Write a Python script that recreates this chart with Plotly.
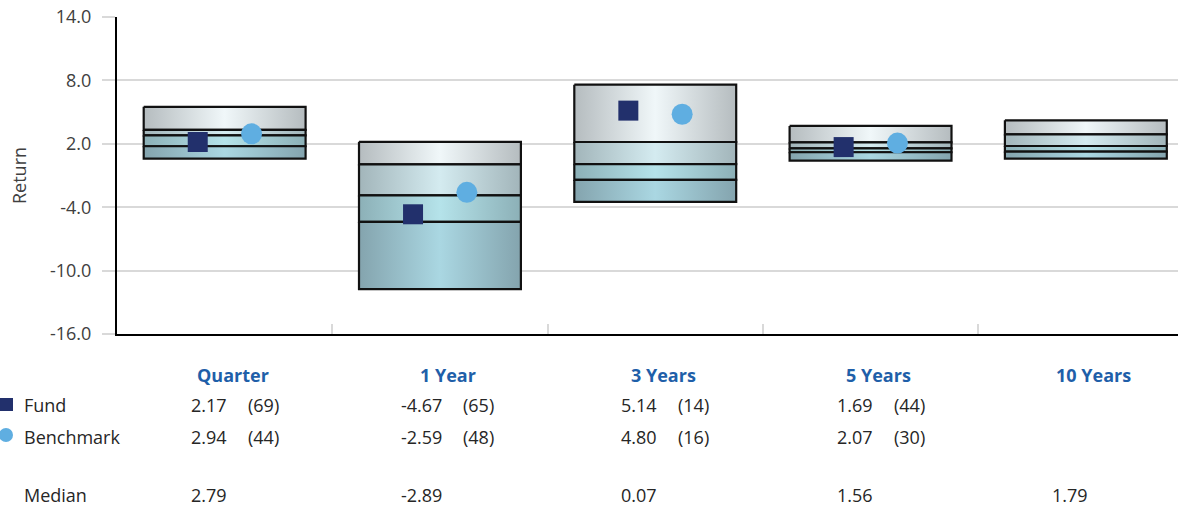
import plotly.graph_objects as go

# ---------------- data ----------------
categories = ["Quarter", "1 Year", "3 Years", "5 Years", "10 Years"]
pct5 = [5.50, 2.19, 7.60, 3.69, 4.22]      # top of box
pct25 = [3.31, 0.06, 2.17, 2.14, 2.90]
median = [2.79, -2.89, 0.07, 1.56, 1.79]
pct75 = [1.77, -5.39, -1.42, 1.20, 1.26]
pct95 = [0.59, -11.76, -3.50, 0.40, 0.60]   # bottom of box

fund = [2.17, -4.67, 5.14, 1.69, None]
fund_rank = [69, 65, 14, 44, None]
bench = [2.94, -2.59, 4.80, 2.07, None]
bench_rank = [44, 48, 16, 30, None]

y_ticks = [14.0, 8.0, 2.0, -4.0, -10.0, -16.0]
y_tick_text = ["%.1f" % v for v in y_ticks]

# ---------------- styling ----------------
FONT = "Open Sans"
TXT = "#262626"
HEAD = "#1f5fa9"
FUND_C = "#22306c"
BENCH_C = "#5faee1"
GRID = "#d9d9d9"

seg_colors = [("#b5bcbf", "#f0f7f9"),
              ("#a2b5ba", "#d4ebf0"),
              ("#8cb0b7", "#b5e3ea"),
              ("#84a4ae", "#aad7e2")]

HALF_W = 0.376
MK_OFF = 0.125

W, H = 1178, 507
L, R_EDGE, T, B_EDGE = 117, 1178, 17, 334   # plot area in px


def px_x(px):
    return (px - L) / (R_EDGE - L)


def px_y(py):
    return (B_EDGE - py) / (B_EDGE - T)


fig = go.Figure()

levels = [pct5, pct25, median, pct75, pct95]
for i, cat in enumerate(categories):
    for s in range(4):
        top = levels[s][i]
        bot = levels[s + 1][i]
        edge, centre = seg_colors[s]
        fig.add_trace(go.Scatter(
            x=[i - HALF_W, i + HALF_W, i + HALF_W, i - HALF_W, i - HALF_W],
            y=[top, top, bot, bot, top],
            mode="lines",
            fill="toself",
            fillgradient=dict(type="horizontal",
                              colorscale=[[0, edge], [0.5, centre], [1, edge]]),
            line=dict(color="#111111", width=2.2),
            hoverinfo="skip",
            showlegend=False,
        ))

xs = list(range(len(categories)))
fig.add_trace(go.Scatter(
    x=[x - MK_OFF for x in xs], y=fund, mode="markers", name="Fund",
    marker=dict(symbol="square", size=20, color=FUND_C), showlegend=False))
fig.add_trace(go.Scatter(
    x=[x + MK_OFF for x in xs], y=bench, mode="markers", name="Benchmark",
    marker=dict(symbol="circle", size=21, color=BENCH_C), showlegend=False))

# ---------------- table below the chart ----------------
ann = []
row_head, row_fund, row_bench, row_med = 375, 405, 437, 495
for i, cat in enumerate(categories):
    ann.append(dict(x=i, y=px_y(row_head), xref="x", yref="paper", text="<b>%s</b>" % cat,
                    showarrow=False, xanchor="center", yanchor="middle", xshift=8,
                    font=dict(family=FONT, size=18, color=HEAD)))
    for val, rank, row in ((fund[i], fund_rank[i], row_fund), (bench[i], bench_rank[i], row_bench)):
        if val is not None:
            ann.append(dict(x=i, y=px_y(row), xref="x", yref="paper", text="%.2f" % val,
                            showarrow=False, xanchor="right", yanchor="middle", xshift=4,
                            font=dict(family=FONT, size=18, color=TXT)))
            ann.append(dict(x=i, y=px_y(row), xref="x", yref="paper", text="(%d)" % rank,
                            showarrow=False, xanchor="left", yanchor="middle", xshift=21,
                            font=dict(family=FONT, size=18, color=TXT)))
    ann.append(dict(x=i, y=px_y(row_med), xref="x", yref="paper", text="%.2f" % median[i],
                    showarrow=False, xanchor="right", yanchor="middle", xshift=4,
                    font=dict(family=FONT, size=18, color=TXT)))

for label, row in (("Fund", row_fund), ("Benchmark", row_bench), ("Median", row_med)):
    ann.append(dict(x=px_x(22), y=px_y(row), xref="paper", yref="paper", text=label,
                    showarrow=False, xanchor="left", yanchor="middle",
                    font=dict(family=FONT, size=18, color=TXT)))

shapes = [
    dict(type="rect", xref="paper", yref="paper",
         x0=px_x(0), x1=px_x(13), y0=px_y(411), y1=px_y(398),
         fillcolor=FUND_C, line=dict(width=0)),
    dict(type="circle", xref="paper", yref="paper",
         x0=px_x(-1), x1=px_x(13), y0=px_y(442), y1=px_y(428),
         fillcolor=BENCH_C, line=dict(width=0)),
]

fig.update_layout(
    width=W, height=H, autosize=False,
    margin=dict(l=L, r=W - R_EDGE, t=T, b=H - B_EDGE, pad=0),
    paper_bgcolor="white", plot_bgcolor="white",
    font=dict(family=FONT, size=18, color=TXT),
    annotations=ann, shapes=shapes,
    showlegend=False,
)

cat_w = 215.3
fig.update_xaxes(
    range=[-0.5, -0.5 + (R_EDGE - L) / cat_w],
    tickvals=[0.5, 1.5, 2.5, 3.5], showticklabels=False,
    ticks="inside", ticklen=10, tickwidth=2, tickcolor=GRID,
    showgrid=False, zeroline=False,
    showline=True, linecolor="#000000", linewidth=2,
)
fig.update_yaxes(
    range=[-16, 14], tickvals=y_ticks, ticktext=y_tick_text,
    ticks="outside", ticklen=13, tickwidth=2, tickcolor=GRID,
    ticklabelstandoff=7,
    tickfont=dict(family=FONT, size=18, color="#404040"),
    showgrid=True, gridcolor=GRID, gridwidth=2, zeroline=False,
    showline=True, linecolor="#000000", linewidth=2,
    title=dict(text="Return", standoff=19, font=dict(family=FONT, size=18, color="#404040")),
)

fig.write_html("out.html", config={"displayModeBar": False},
               post_script="document.body.style.margin='0';")
